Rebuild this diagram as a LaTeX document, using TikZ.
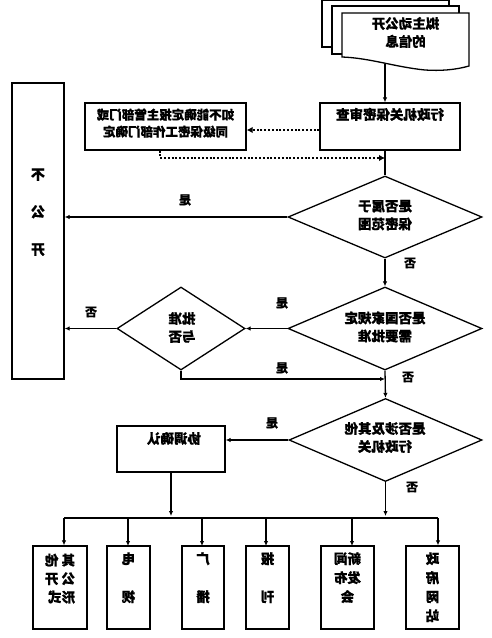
\documentclass[tikz,border=0pt]{standalone}
\usepackage{fontspec}
\usepackage{graphicx}
\usetikzlibrary{arrows.meta,shapes.geometric}
\newfontfamily\cjk[BoldFeatures={FakeBold=0.6}]{Noto Sans CJK SC}
\newcommand\mtext[1]{\reflectbox{\begin{tabular}{@{}c@{}}#1\end{tabular}}}
\newcommand\mtextl[1]{\reflectbox{\begin{tabular}{@{}l@{}}#1\end{tabular}}}
\begin{document}
\begin{tikzpicture}[x=1pt,y=-1pt,
  line width=1.3pt,
  box/.style={draw, rectangle, inner sep=0pt},
  dia/.style={draw, diamond, inner sep=0pt},
  txt/.style={inner sep=0pt, font=\cjk\bfseries\fontsize{13.5}{18}\selectfont},
  lab/.style={inner sep=0pt, font=\cjk\bfseries\fontsize{12}{14}\selectfont},
  arr/.style={-{Latex[length=5pt,width=4.5pt]}},
  dots/.style={line width=2.6pt, dash pattern=on 2pt off 1.8pt},
  darr/.style={dots, -{Latex[length=6pt,width=6.5pt]}}
]
\useasboundingbox[fill=white] (0,0) rectangle (492,638);

% document stack
\draw[fill=white] (322,0) rectangle (449,47);
\draw[fill=white] (332,6) rectangle (459,54);
\draw[fill=white] (342,13) -- (469,13) -- (469,66)
  .. controls (455,70) and (440,71) .. (425,70)
  .. controls (395,67) and (370,58) .. (342,57) -- cycle;
\node[txt] (doc) at (405.5,34) {\mtext{拟主动公开\\的信息}};
\coordinate (docb) at (385,64);

% review box
\node[box, minimum width=140pt, minimum height=47pt] (review) at (390,126.5) {};
\node[txt] (reviewt) at (390,116) {\mtext{行政机关保密审查}};

% note box
\node[box, minimum width=161pt, minimum height=47pt] (note) at (165.5,126.5) {};
\node[txt, font=\cjk\bfseries\fontsize{12.5}{17}\selectfont] (notet) at (165.5,124.5) {\mtext{如不能确定报主管部门或\\同级保密工作部门确定}};

% not public box
\node[box, minimum width=52pt, minimum height=296pt] (nopub) at (38,231) {};
\node[txt, font=\cjk\bfseries\fontsize{14}{37.5}\selectfont] (nopubt) at (38,209.5) {\mtext{不\\公\\开}};

% diamonds
\node[dia, minimum width=194pt, minimum height=82pt] (d1) at (385,217) {};
\node[txt] (d1t) at (385,216.5) {\mtext{是否属于\\保密范围}};
\node[dia, minimum width=194pt, minimum height=83pt] (d2) at (385,328.5) {};
\node[txt] (d2t) at (385,328.5) {\mtext{是否国家规定\\需要批准}};
\node[dia, minimum width=128pt, minimum height=83pt] (d3) at (181,328.5) {};
\node[txt] (d3t) at (182,329) {\mtext{批准\\与否}};
\node[dia, minimum width=193pt, minimum height=83pt] (d4) at (385.5,440) {};
\node[txt] (d4t) at (385,439) {\mtext{是否涉及其他\\行政机关}};

% confirm box
\node[box, minimum width=108pt, minimum height=46pt] (conf) at (171,449) {};
\node[txt] (conft) at (174,440) {\mtext{协调确认}};

% bottom boxes
\node[box, minimum width=54pt, minimum height=83pt] (b1) at (60,587.5) {};
\node[box, minimum width=43pt, minimum height=83pt] (b2) at (128.5,587.5) {};
\node[box, minimum width=42pt, minimum height=83pt] (b3) at (203,587.5) {};
\node[box, minimum width=43pt, minimum height=83pt] (b4) at (267.5,587.5) {};
\node[box, minimum width=53pt, minimum height=83pt] (b5) at (347.5,587.5) {};
\node[box, minimum width=53pt, minimum height=83pt] (b6) at (432.5,587.5) {};
\node[txt, font=\cjk\bfseries\fontsize{13.5}{18.5}\selectfont] (b1t) at (60,580) {\mtextl{其 他\\公 开\\形式}};
\node[txt, font=\cjk\bfseries\fontsize{13.5}{19}\selectfont] (b2t) at (128.5,579) {\mtext{电\\ \\视}};
\node[txt, font=\cjk\bfseries\fontsize{13.5}{19}\selectfont] (b3t) at (203,579) {\mtext{广\\ \\播}};
\node[txt, font=\cjk\bfseries\fontsize{13.5}{19}\selectfont] (b4t) at (267.5,579) {\mtext{报\\ \\刊}};
\node[txt, font=\cjk\bfseries\fontsize{13.5}{19}\selectfont] (b5t) at (347.5,579) {\mtext{新闻\\发布\\会}};
\node[txt, font=\cjk\bfseries\fontsize{13.5}{19}\selectfont] (b6t) at (432.5,588.5) {\mtext{政\\府\\网\\站}};

% connectors
\draw[arr] (docb) -- (docb |- review.north);
\draw[darr] ([yshift=-3.5pt]review.west) -- ([yshift=-3.5pt]note.east);
\coordinate (n1) at ([xshift=-5.5pt]note.south);
\coordinate (n2) at (385,158);
\draw[darr] (n1) -- (n1 |- n2) -- (n2);
\draw (review.south -| docb) -- (d1.north);
\draw[arr] (d1.west) -- (d1.west -| nopub.east);
\draw[arr] (d1.south) -- (d2.north);
\draw[arr] (d2.west) -- (d3.east);
\draw[arr] (d3.west) -- (d3.west -| nopub.east);
\coordinate (m1) at (385,379);
\draw[arr] (d3.south) -- (d3.south |- m1) -- (m1);
\draw[arr] (d2.south) -- (d4.north);
\draw[arr] (d4.west) -- (d4.west -| conf.east);
\coordinate (busl) at (64,518);
\coordinate (busr) at (438,518);
\draw[arr] (conf.south) -- (conf.south |- 0,516);
\draw[arr] (d4.south) -- (d4.south |- 0,516);
\draw (busl) -- (busr);
\draw[arr] (busl) -- (busl |- b1.north);
\draw[arr] (128,518) -- (128,546);
\draw[arr] (202,518) -- (202,546);
\draw[arr] (266,518) -- (266,546);
\draw[arr] (352,518) -- (352,546);
\draw[arr] (busr) -- (busr |- b6.north);

% labels
\node[lab] (l1) at (185,200) {\reflectbox{是}};
\node[lab] (l2) at (410,263) {\reflectbox{否}};
\node[lab] (l3) at (282,303) {\reflectbox{是}};
\node[lab] (l4) at (91,312) {\reflectbox{否}};
\node[lab] (l5) at (282,368) {\reflectbox{是}};
\node[lab] (l6) at (408,377) {\reflectbox{否}};
\node[lab] (l7) at (272,423) {\reflectbox{是}};
\node[lab] (l8) at (412,487) {\reflectbox{否}};
\end{tikzpicture}
\end{document}
